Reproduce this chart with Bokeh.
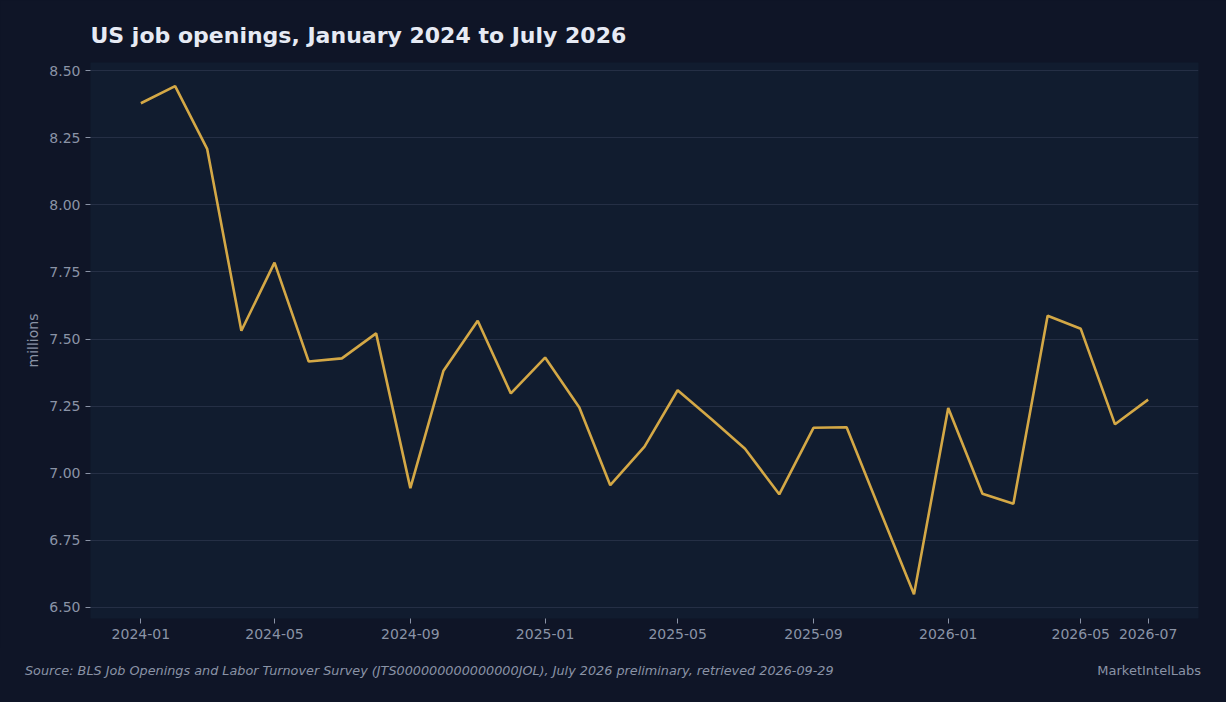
import pandas as pd
from bokeh.plotting import figure
from bokeh.models import FixedTicker, DatetimeTickFormatter, NumeralTickFormatter, Div, ColumnDataSource, Range1d
from bokeh.layouts import column, row
from bokeh.embed import file_html
from bokeh.resources import INLINE

# ---- data (millions of job openings) ----
months = pd.date_range("2024-01-01", "2026-07-01", freq="MS")
openings = [8.379, 8.443, 8.209, 7.531, 7.785, 7.416, 7.428, 7.521, 6.944, 7.382, 7.568, 7.297,
            7.431, 7.245, 6.955, 7.099, 7.309, 7.200, 7.091, 6.921, 7.169, 7.171, 6.853, 6.548,
            7.243, 6.923, 6.886, 7.587, 7.538, 7.182, 7.274]
x_tick_labels = ["2024-01", "2024-05", "2024-09", "2025-01", "2025-05", "2025-09", "2026-01", "2026-05", "2026-07"]
y_ticks = [6.50, 6.75, 7.00, 7.25, 7.50, 7.75, 8.00, 8.25, 8.50]
y_limits = (6.458, 8.531)

title_text = "US job openings, January 2024 to July 2026"
source_text = "Source: BLS Job Openings and Labor Turnover Survey (JTS000000000000000JOL), July 2026 preliminary, retrieved 2026-09-29"
brand_text = "MarketIntelLabs"

BG = "#0f1527"
PLOT_BG = "#111c2f"
GRID = "#252f45"
TXT = "#8a93a6"
LINE = "#d4a846"
FONT = "DejaVu Sans"

src = ColumnDataSource(dict(x=months, y=openings))

p = figure(width=1226, height=648, x_axis_type="datetime", output_backend="svg",
           toolbar_location=None, title=title_text,
           y_range=Range1d(*y_limits),
           min_border_left=90, min_border_right=28, min_border_top=62, min_border_bottom=30)
p.background_fill_color = PLOT_BG
p.border_fill_color = BG
p.outline_line_color = None

p.line("x", "y", source=src, line_color=LINE, line_width=2.6)

p.title.text_font = FONT
p.title.text_font_size = "22px"
p.title.text_font_style = "bold"
p.title.text_color = "#e6eaf4"
p.title.align = "left"
p.title.standoff = 30

tick_ms = [pd.Timestamp(t + "-01").value / 1e6 for t in x_tick_labels]
p.xaxis.ticker = FixedTicker(ticks=tick_ms)
fmt = "%Y-%m"
p.xaxis.formatter = DatetimeTickFormatter(years=fmt, months=fmt, days=fmt, hours=fmt,
                                          minutes=fmt, seconds=fmt, milliseconds=fmt,
                                          microseconds=fmt, hourmin=fmt, minsec=fmt)
p.yaxis.ticker = FixedTicker(ticks=y_ticks)
p.yaxis.formatter = NumeralTickFormatter(format="0.00")
p.yaxis.axis_label = "millions"

for ax in (p.xaxis[0], p.yaxis[0]):
    ax.axis_line_color = None
    ax.major_tick_line_color = TXT
    ax.major_tick_out = 5
    ax.major_tick_in = 0
    ax.minor_tick_line_color = None
    ax.major_label_text_color = TXT
    ax.major_label_text_font = FONT
    ax.major_label_text_font_size = "14px"
    ax.major_label_standoff = 5
    ax.axis_label_text_color = TXT
    ax.axis_label_text_font = FONT
    ax.axis_label_text_font_size = "14px"
    ax.axis_label_text_font_style = "normal"
    ax.axis_label_standoff = 5

p.xgrid.grid_line_color = None
p.ygrid.grid_line_color = GRID
p.ygrid.grid_line_width = 1

left_div = Div(width=900, height=46,
               text=f'<div style="padding-left:20px;padding-top:9px;font-family:\'DejaVu Sans\';'
                    f'font-size:12.8px;line-height:18px;font-style:italic;color:{TXT};white-space:nowrap">{source_text}</div>')
right_div = Div(width=326, height=46,
                text=f'<div style="width:286px;text-align:right;padding-top:9px;font-family:\'DejaVu Sans\';'
                     f'font-size:13px;line-height:18px;color:{TXT};white-space:nowrap">{brand_text}</div>')

layout = column(p, row(left_div, right_div, spacing=0), spacing=0)

html = file_html(layout, INLINE)
html = html.replace("</head>", f"<style>html, body {{ background-color: {BG}; }}</style></head>", 1)
open("out.html", "w").write(html)
